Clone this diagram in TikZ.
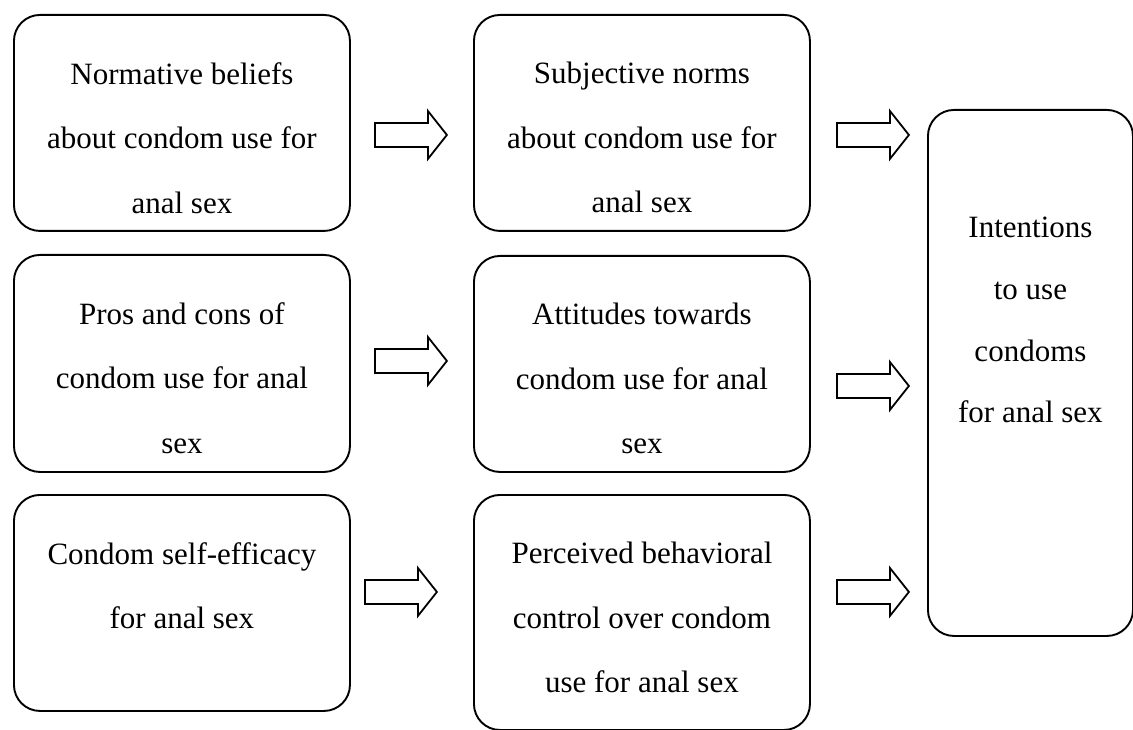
\documentclass[tikz,border=0pt]{standalone}
\usepackage{fontspec}
\setmainfont{Liberation Serif}
\usetikzlibrary{positioning,calc}

\tikzset{
	model box/.style={draw, line width=1.9pt, rounded corners=26pt, anchor=north west,
		inner sep=0pt, minimum width=336pt, minimum height=216pt},
	box text/.style={anchor=north, align=center, inner sep=0pt,
		font=\fontsize{31}{64.5}\selectfont},
	fat arrow/.pic={
		\draw[line width=1.8pt, line join=miter]
		(0,-12) -- (53,-12) -- (53,-24) -- (72,0) -- (53,24) -- (53,12) -- (0,12) -- cycle;
	}
}

\begin{document}
\begin{tikzpicture}[x=1pt, y=-1pt]

	\useasboundingbox (0,0) rectangle (1133,730);

	% Left column: beliefs
	\node[model box] (normbel) at (13,14) {};
	\node[box text] (normbel-t) at ($(normbel.north)+(0,48)$)
	{Normative beliefs\\about condom use for\\anal sex};

	\node[model box, minimum height=217pt] (proscons) at (13,254) {};
	\node[box text] (proscons-t) at ($(proscons.north)+(0,48)$)
	{Pros and cons of\\condom use for anal\\sex};

	\node[model box] (selfeff) at (13,494) {};
	\node[box text] (selfeff-t) at ($(selfeff.north)+(0,48)$)
	{Condom self-efficacy\\for anal sex};

	% Middle column: TPB constructs
	\node[model box] (subjnorm) at (473,14) {};
	\node[box text] (subjnorm-t) at ($(subjnorm.north)+(0,48)$)
	{Subjective norms\\about condom use for\\anal sex};

	\node[model box] (attit) at (473,255) {};
	\node[box text] (attit-t) at ($(attit.north)+(0,48)$)
	{Attitudes towards\\condom use for anal\\sex};

	\node[model box, minimum height=235pt] (pbc) at (473,494) {};
	\node[box text] (pbc-t) at ($(pbc.north)+(0,48)$)
	{Perceived behavioral\\control over condom\\use for anal sex};

	% Right column: outcome
	\node[model box, minimum width=205pt, minimum height=526pt] (intent) at (927,109) {};
	\node[box text, font=\fontsize{31}{61.7}\selectfont] (intent-t) at ($(intent.north)+(0,108)$)
	{Intentions\\to use\\condoms\\for anal sex};

	% Block arrows
	\pic at ($(normbel.east)+(24,12)$) {fat arrow};
	\pic at ($(proscons.east)+(24,-2.5)$) {fat arrow};
	\pic at ($(selfeff.east)+(14,-11)$) {fat arrow};

	\pic at ($(subjnorm.east)+(26,12)$) {fat arrow};
	\pic at ($(attit.east)+(26,22)$) {fat arrow};
	\pic at ($(pbc.east)+(26,-20.5)$) {fat arrow};

\end{tikzpicture}
\end{document}
